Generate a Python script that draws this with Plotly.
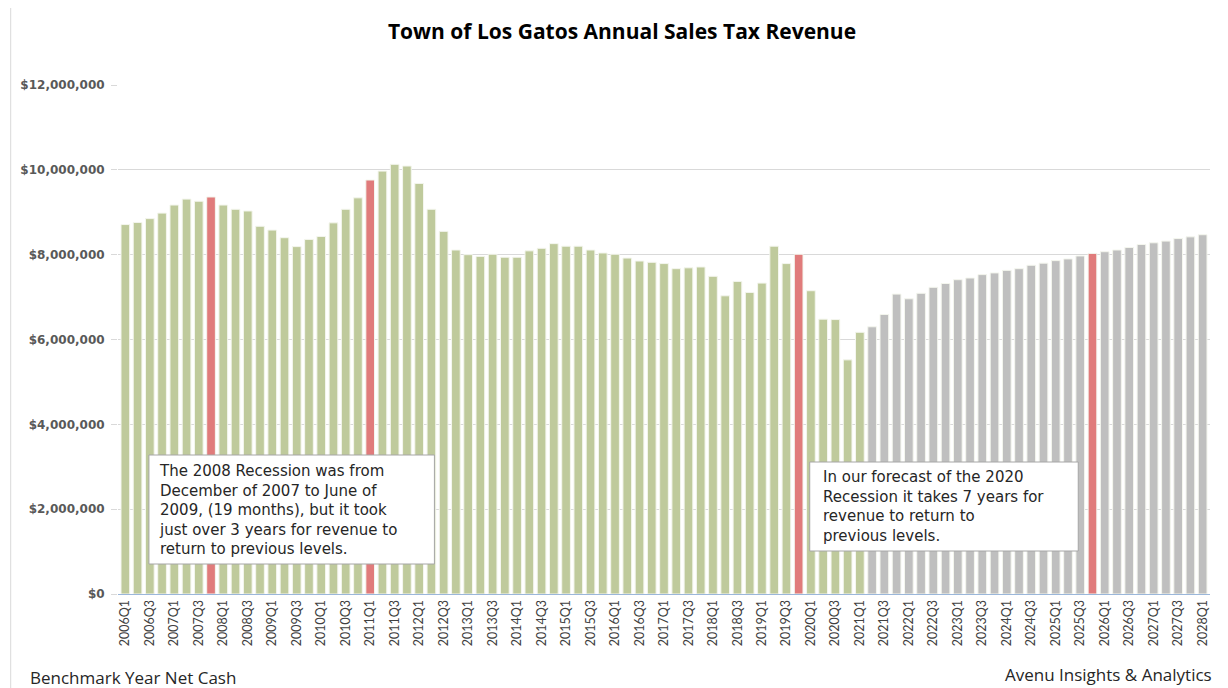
import plotly.graph_objects as go

# Quarters 2006Q1 .. 2028Q1
quarters = [f"{y}Q{q}" for y in range(2006, 2029) for q in range(1, 5)][:89]

# Actual revenue (2006Q1 .. 2021Q1), dollars
actual = [
    8710000, 8760000, 8850000, 8980000, 9170000, 9310000, 9260000, 9360000,
    9170000, 9070000, 9030000, 8670000, 8580000, 8400000, 8190000, 8360000,
    8430000, 8750000, 9070000, 9340000, 9760000, 9970000, 10130000, 10090000,
    9680000, 9070000, 8550000, 8110000, 8000000, 7960000, 8010000, 7940000,
    7940000, 8090000, 8150000, 8260000, 8200000, 8200000, 8110000, 8040000,
    8010000, 7920000, 7850000, 7820000, 7790000, 7670000, 7690000, 7710000,
    7490000, 7030000, 7370000, 7110000, 7330000, 8200000, 7790000, 8010000,
    7150000, 6480000, 6470000, 5520000, 6170000,
]
# Forecast revenue (2021Q2 .. 2028Q1), dollars
forecast = [
    6300000, 6590000, 7070000, 6960000, 7090000, 7230000, 7320000, 7410000,
    7450000, 7530000, 7570000, 7630000, 7670000, 7750000, 7800000, 7860000,
    7900000, 7970000, 8030000, 8070000, 8110000, 8170000, 8240000, 8280000,
    8320000, 8380000, 8420000, 8470000,
]
highlight = ["2007Q4", "2011Q1", "2019Q4", "2025Q4"]
tick_labels = [q for q in quarters if q.endswith("Q1") or q.endswith("Q3")]
y_ticks = [0, 2000000, 4000000, 6000000, 8000000, 10000000, 12000000]

note_2008 = [
    "The 2008 Recession was from",
    "December of 2007 to June of",
    "2009, (19 months), but it took",
    "just over 3 years for revenue to",
    "return to previous levels.",
]
note_2020 = [
    "In our forecast of the 2020",
    "Recession it takes 7 years for",
    "revenue to return to",
    "previous levels.",
]

GREEN = "#BFCA9C"
RED = "#E07B7B"
GREY = "#BFBFBF"

values = actual + forecast
colors = []
for i, q in enumerate(quarters):
    if q in highlight:
        colors.append(RED)
    elif i < len(actual):
        colors.append(GREEN)
    else:
        colors.append(GREY)

fig = go.Figure(go.Bar(
    x=quarters, y=values,
    marker=dict(color=colors, line=dict(color="#F4F6EE", width=1)),
    showlegend=False,
))

# figure geometry (page has an 8px body margin)
W, H = 1220, 680
L, R, T, B = 108, 18, 77, 94
PW, PH = W - L - R, H - T - B


def px(x):
    return (x - L) / PW


def py(y):
    return (H - B - y) / PH


TXT = "Open Sans"
fig.update_layout(
    width=W, height=H,
    paper_bgcolor="white", plot_bgcolor="white",
    margin=dict(l=L, r=R, t=T, b=B),
    bargap=0.29,
    title=dict(text="<b>Town of Los Gatos Annual Sales Tax Revenue</b>",
               x=614 / W, xref="container", xanchor="center",
               y=1 - 24 / H, yref="container", yanchor="middle",
               font=dict(family=TXT, size=21, color="#000000")),
    font=dict(family=TXT),
)
fig.update_xaxes(
    type="category", categoryorder="array", categoryarray=quarters,
    tickmode="array", tickvals=tick_labels, ticktext=tick_labels,
    tickangle=-90, tickfont=dict(family="Lato", size=12.5, color="#404040"),
    showline=True, linecolor="#9BB7DA", linewidth=1,
    showgrid=False, ticks="", range=[-0.6, len(quarters) - 0.4],
)
fig.update_yaxes(
    range=[0, 12000000], tickmode="array", tickvals=y_ticks,
    tickformat="$,.0f",
    tickfont=dict(family="DejaVu Sans", size=12, color="#595959", weight="bold"),
    showgrid=True, gridcolor="#D9D9D9", gridwidth=1,
    ticks="outside", ticklen=6, tickcolor="#D9D9D9", ticklabelstandoff=4,
    zeroline=False, showline=False,
)

box_font = dict(family="DejaVu Sans", size=15, color="#262626")
# annotation boxes
for (x0, y0, x1, y1) in [(139, 447, 425, 556), (801, 454, 1070, 543)]:
    fig.add_shape(type="rect", xref="paper", yref="paper",
                  x0=px(x0), x1=px(x1), y0=py(y1), y1=py(y0),
                  fillcolor="white", line=dict(color="#A6A6A6", width=1))
fig.add_annotation(xref="paper", yref="paper", x=px(147), y=py(502.4),
                   xanchor="left", yanchor="middle", align="left",
                   showarrow=False, text="<br>".join(note_2008), font=box_font)
fig.add_annotation(xref="paper", yref="paper", x=px(812), y=py(498),
                   xanchor="left", yanchor="middle", align="left",
                   showarrow=False, text="<br>".join(note_2020), font=box_font)
fig.add_annotation(
    xref="paper", yref="paper", x=px(18), y=py(669),
    xanchor="left", yanchor="middle", showarrow=False,
    text="Benchmark Year Net Cash", font=dict(family=TXT, size=17, color="#262626"),
)
fig.add_annotation(
    xref="paper", yref="paper", x=px(1206), y=py(666),
    xanchor="right", yanchor="middle", showarrow=False,
    text="Avenu Insights & Analytics", font=dict(family=TXT, size=17, color="#262626"),
)
# outer chart border lines
for xpx in (0.5, 1217):
    fig.add_shape(type="line", xref="paper", yref="paper",
                  x0=px(xpx), x1=px(xpx), y0=py(H), y1=py(0),
                  line=dict(color="#D9D9D9", width=1))

fig.write_html("out.html")
